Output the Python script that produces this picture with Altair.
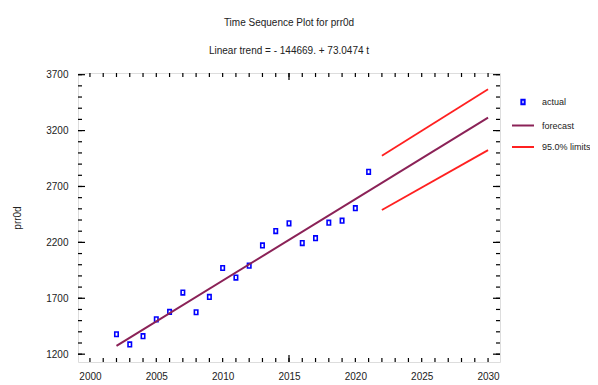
import altair as alt
import pandas as pd

# ---- data ----
years = list(range(2002, 2022))
actual = [1378, 1287, 1361, 1512, 1578, 1751, 1575, 1712, 1971, 1885,
          1992, 2173, 2301, 2370, 2194, 2238, 2376, 2394, 2506, 2831]
trend_years = [2002, 2030]
trend_vals = [1275, 3315]
limit_years = [2022, 2030]
upper_vals = [2975, 3570]
lower_vals = [2490, 3025]

x_labels = [2000, 2005, 2010, 2015, 2020, 2025, 2030]
x_minor = list(range(2000, 2031))
x_major = [2015]
y_labels = [1200, 1700, 2200, 2700, 3200, 3700]
y_minor = list(range(1200, 3701, 100))

series_names = ["actual", "forecast", "95.0% limits"]
series_colors = ["#0000FF", "#8B2257", "#FF2020"]
rect_path = "M-0.15,-0.2H0.15V0.2H-0.15Z"

FONT = "Liberation Sans Narrow, Liberation Sans, Arial, sans-serif"
W, H = 422, 289

# ---- tables ----
pts = pd.DataFrame({"year": years, "value": actual, "series": "actual"})
trend = pd.DataFrame({"year": trend_years, "value": trend_vals, "series": "forecast"})
lim = pd.concat([
    pd.DataFrame({"year": limit_years, "value": upper_vals, "bound": "upper"}),
    pd.DataFrame({"year": limit_years, "value": lower_vals, "bound": "lower"}),
])
lim["series"] = "95.0% limits"

xs = alt.Scale(domain=[1999.1, 2030.9], nice=False, zero=False)
ys = alt.Scale(domain=[1130, 3715], nice=False, zero=False)
xaxis = alt.Axis(values=x_labels, format="d", ticks=False, domain=False, grid=False,
                 labelPadding=9, labelFont=FONT, labelFontSize=10, labelColor="#222",
                 title=None)
yaxis = alt.Axis(values=y_labels, format="d", ticks=False, domain=False, grid=False,
                 labelPadding=10, labelFont=FONT, labelFontSize=10, labelColor="#222",
                 title="prr0d", titleFont=FONT, titleFontSize=10, titleFontWeight="normal",
                 titleColor="#222", titleX=-61, titleY=H / 2, titleAngle=270,
                 titleAlign="center", titleBaseline="middle")

X = alt.X("year:Q", scale=xs, axis=xaxis)
Y = alt.Y("value:Q", scale=ys, axis=yaxis)
color = alt.Color("series:N", scale=alt.Scale(domain=series_names, range=series_colors),
                  legend=alt.Legend(title=None, orient="none", legendX=433, legendY=17,
                                    labelFont=FONT, labelFontSize=9, labelColor="#222",
                                    symbolSize=484, symbolStrokeWidth=2, labelOffset=7,
                                    rowPadding=4.5, padding=0))
shape = alt.Shape("series:N", scale=alt.Scale(domain=series_names,
                                              range=[rect_path, "stroke", "stroke"]))

points = alt.Chart(pts).mark_point(filled=False, size=529, strokeWidth=1.6, opacity=1).encode(
    x=X, y=Y, color=color, shape=shape)
trend_line = alt.Chart(trend).mark_line(strokeWidth=2).encode(x=X, y=Y, color=color)
limit_lines = alt.Chart(lim).mark_line(strokeWidth=1.8).encode(
    x=X, y=Y, color=color, detail="bound:N")

# ---- inward ticks on all four sides ----
def ytick(vals, length):
    d = pd.DataFrame({"value": vals})
    yy = alt.Y("value:Q", scale=ys, axis=yaxis)
    left = alt.Chart(d).mark_rule(color="black", strokeWidth=1.2).encode(
        y=yy, x=alt.value(0), x2=alt.value(length))
    right = alt.Chart(d).mark_rule(color="black", strokeWidth=1.2).encode(
        y=yy, x=alt.value(W), x2=alt.value(W - length))
    return [left, right]

def xtick(vals, length):
    d = pd.DataFrame({"year": vals})
    xx = alt.X("year:Q", scale=xs, axis=xaxis)
    bottom = alt.Chart(d).mark_rule(color="black", strokeWidth=1.2).encode(
        x=xx, y=alt.value(H), y2=alt.value(H - length))
    top = alt.Chart(d).mark_rule(color="black", strokeWidth=1.2).encode(
        x=xx, y=alt.value(0), y2=alt.value(length))
    return [bottom, top]

ticks = ytick(y_minor, 4) + ytick(y_labels, 7) + xtick(x_minor, 4) + xtick(x_major, 7)

chart = alt.layer(points, trend_line, limit_lines, *ticks).properties(
    width=W, height=H,
    padding={"left": 70, "top": 65, "right": 90, "bottom": 22},
    autosize=alt.AutoSizeParams(type="none"),
    title=alt.Title("Time Sequence Plot for prr0d",
                    subtitle="Linear trend = - 144669. + 73.0474 t",
                    font=FONT, fontSize=10, fontWeight="normal", color="#222",
                    subtitleFont=FONT, subtitleFontSize=10, subtitleColor="#222",
                    offset=14, subtitlePadding=18, anchor="middle"),
).configure_view(stroke="black", strokeWidth=1.6).configure(background="white")

chart.save("out.html", embed_options={"renderer": "svg", "actions": False})
